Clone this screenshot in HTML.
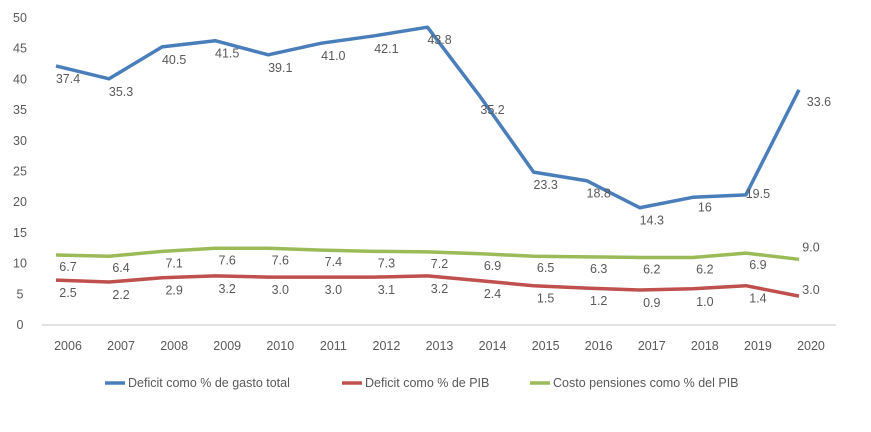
<!DOCTYPE html>
<html><head><meta charset="utf-8"><style>
body{margin:0;background:#fff;font-family:"Liberation Sans",sans-serif;}
svg text{font-family:"Liberation Sans",sans-serif;fill:#595959;}
</style></head><body>
<svg id="chart" width="871" height="427" xmlns="http://www.w3.org/2000/svg">
<g id="yaxis"></g>
<g id="xaxis"></g>
<g id="series"></g>
<g id="legend"></g>
</svg>
<script>
const years=["2006","2007","2008","2009","2010","2011","2012","2013","2014","2015","2016","2017","2018","2019","2020"];
const yTicks=[0,5,10,15,20,25,30,35,40,45,50];
const blueVals=[42.2,40.1,45.3,46.3,44.0,45.9,47.1,48.5,37.1,24.9,23.5,19.1,20.8,21.2,38.3];
const blueLabels=["37.4","35.3","40.5","41.5","39.1","41.0","42.1","43.8","35.2","23.3","18.8","14.3","16","19.5","33.6"];
const redVals=[7.3,7.0,7.7,8.0,7.8,7.8,7.8,8.0,7.2,6.4,6.0,5.7,5.9,6.4,4.7];
const redLabels=["2.5","2.2","2.9","3.2","3.0","3.0","3.1","3.2","2.4","1.5","1.2","0.9","1.0","1.4","3.0"];
const greenVals=[11.4,11.2,12.0,12.5,12.5,12.2,12.0,11.9,11.6,11.2,11.1,11.0,11.0,11.7,10.7];
const greenLabels=["6.7","6.4","7.1","7.6","7.6","7.4","7.3","7.2","6.9","6.5","6.3","6.2","6.2","6.9","9.0"];
const NS="http://www.w3.org/2000/svg";
const X0=68,DX=53.07,Y0=325,YS=6.14;
const xPos=i=>X0+i*DX;
const yPos=v=>Y0-v*YS;
function mk(tag,attrs,parent){const e=document.createElementNS(NS,tag);for(const k in attrs)e.setAttribute(k,attrs[k]);parent.appendChild(e);return e;}
const ya=document.getElementById('yaxis'),xa=document.getElementById('xaxis'),sg=document.getElementById('series'),lg=document.getElementById('legend');
yTicks.forEach(t=>{const e=mk('text',{x:20,y:yPos(t)+4,'text-anchor':'middle','font-size':12.5},ya);e.textContent=t;

});
const ax=mk('line',{x1:42,x2:836,y1:Y0,y2:Y0,stroke:'#d9d9d9','stroke-width':1.5},xa);


years.forEach((y,i)=>{const e=mk('text',{x:xPos(i),y:350,'text-anchor':'middle','font-size':12.5},xa);e.textContent=y;

});
function series(vals,labels,color,name,dy){
 const pts=vals.map((v,i)=>(xPos(i)-12)+','+yPos(v)).join(' ');
 const p=mk('polyline',{points:pts,fill:'none',stroke:color,'stroke-width':3.5,'stroke-linejoin':'round'},sg);
 
 
 const last=labels.length-1;
 labels.forEach((l,i)=>{let x=xPos(i),y=yPos(vals[i])+dy;
  if(name==='green'&&i===last){y=yPos(vals[i])-8;}
  if(name==='red'&&i===last){y=yPos(vals[i])-2;}
  if(name==='blue'&&i===last){x+=8;y=yPos(vals[i])+16;}
  if(name==='blue'&&i===last-1){y=yPos(vals[i])+3;}
  if(name==='blue'&&i===last-2){y=yPos(vals[i])+14;}
  const t=mk('text',{x:x,y:y,'text-anchor':'middle','font-size':12.5},sg);t.textContent=l;
  
  });
}
series(blueVals,blueLabels,'#4a7ebb','blue',17);
series(greenVals,greenLabels,'#9bbb59','green',16);
series(redVals,redLabels,'#c0504d','red',17);
const leg=[["Deficit como % de gasto total","#4a7ebb",105],["Deficit como % de PIB","#c0504d",342],["Costo pensiones como % del PIB","#9bbb59",530]];
leg.forEach(l=>{const ln=mk('line',{x1:l[2],x2:l[2]+20,y1:383,y2:383,stroke:l[1],'stroke-width':3.5},lg);


const t=mk('text',{x:l[2]+23,y:387,'font-size':12.5},lg);t.textContent=l[0];

});
</script>
</body></html>
